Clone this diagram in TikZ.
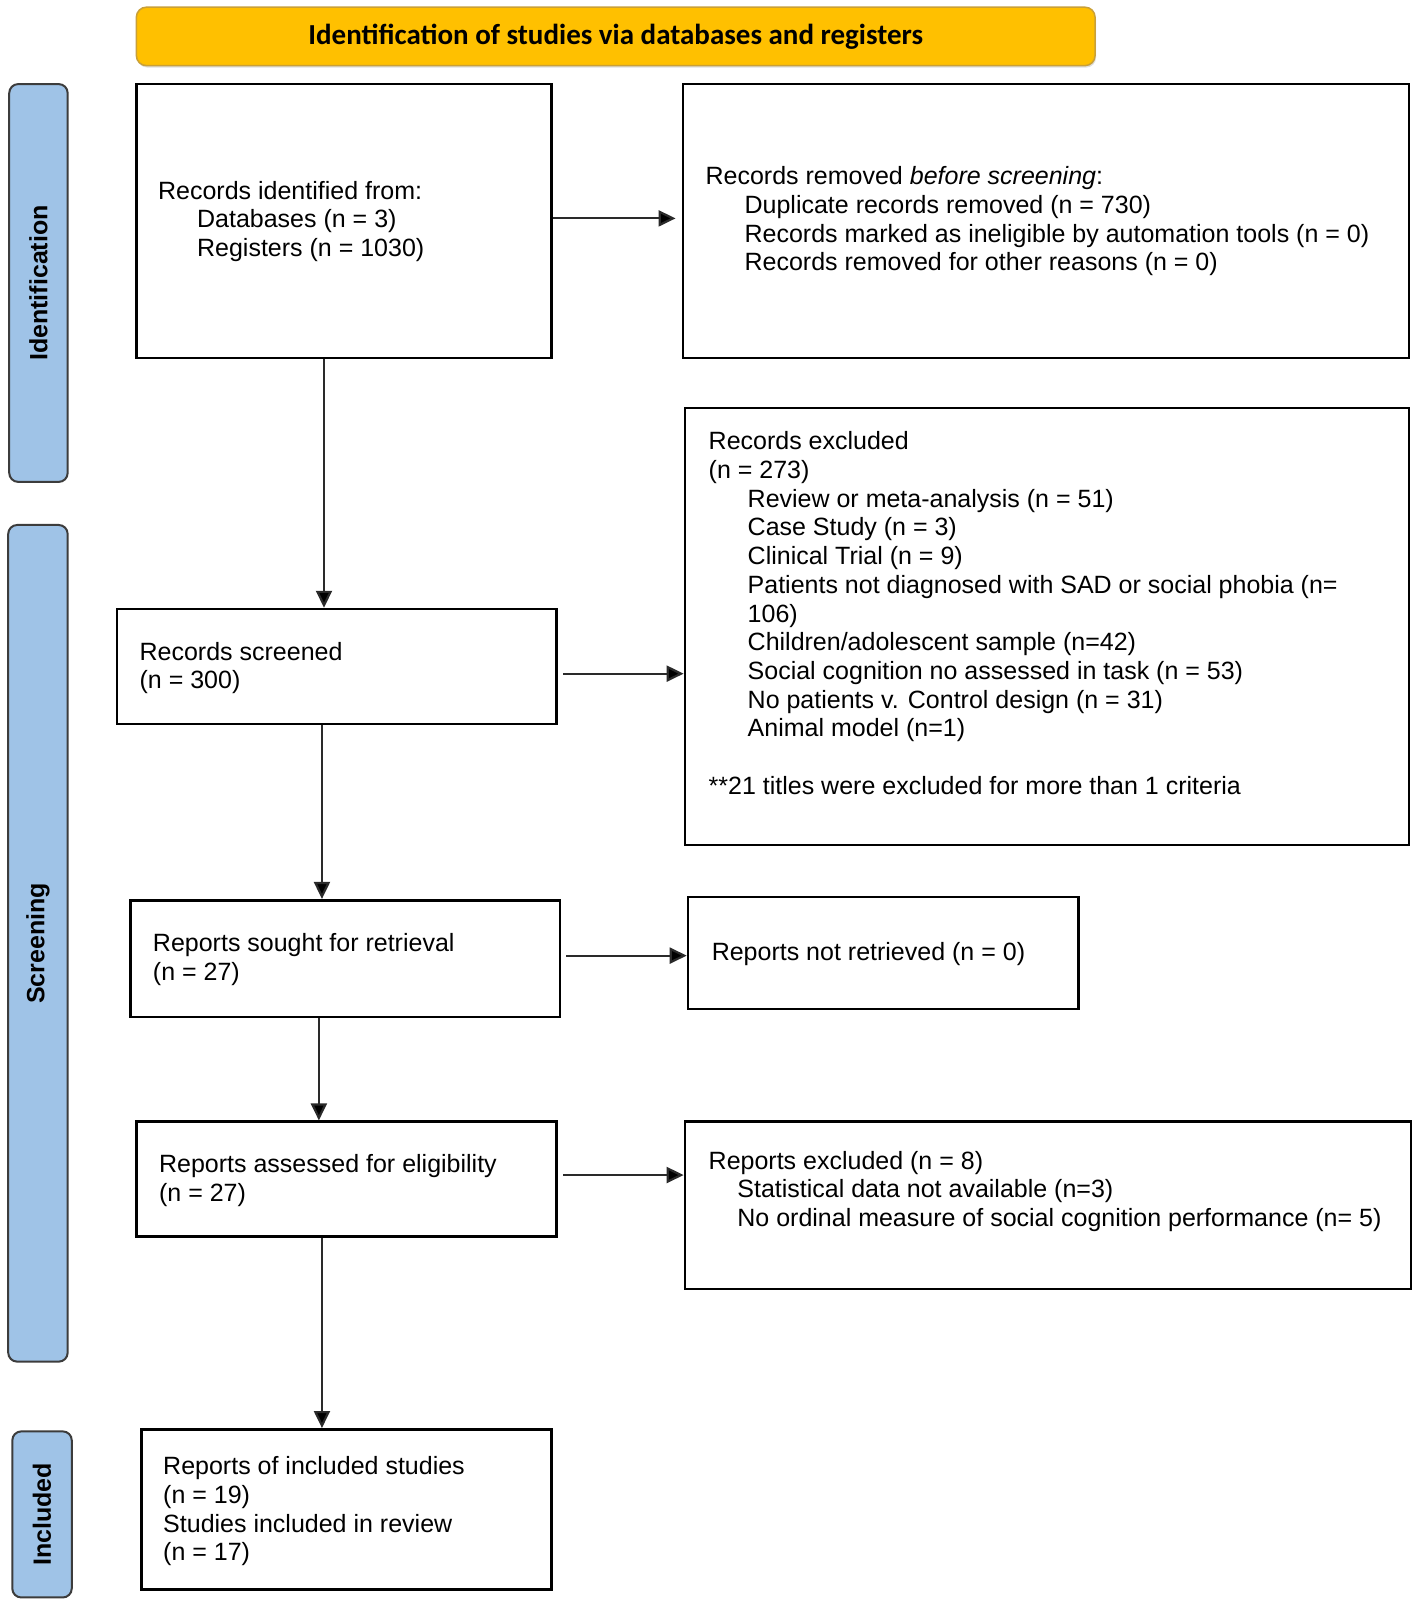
\documentclass[tikz,border=0pt]{standalone}
\usepackage{fontspec}
\setmainfont{Liberation Sans}
\newfontfamily\calibfont{Carlito}
\usetikzlibrary{arrows.meta,fit,shadows}
\definecolor{bannerfill}{HTML}{FFC000}
\definecolor{bannerdraw}{HTML}{C9A038}
\definecolor{sidefill}{HTML}{9FC3E7}
\definecolor{sidedraw}{HTML}{3C3C3C}
\definecolor{arrowcol}{HTML}{2A2A2A}
\newcommand\myind{\hspace*{39pt}}
\newcommand\myindb{\hspace*{28.7pt}}
\begin{document}
\begin{tikzpicture}[x=1.0253pt,y=-1.0253pt,
  box/.style={draw=black,line width=2.6pt,inner sep=0pt},
  txt/.style={anchor=west,align=left,inner sep=0pt,font=\fontsize{25}{28.7}\selectfont},
  side/.style={draw=sidedraw,fill=sidefill,line width=2pt,rounded corners=9pt,inner sep=0pt},
  sidetxt/.style={rotate=90,inner sep=0pt,font=\fontsize{25}{30}\selectfont\bfseries},
  arr/.style={draw=arrowcol,line width=2.2pt,-{Triangle[length=17pt,width=16pt,fill=black]}}]
\useasboundingbox (0,0) rectangle (1383,1567.3);

% banner
\node[draw=bannerdraw,fill=bannerfill,line width=1.5pt,rounded corners=10pt,inner sep=0pt,
      drop shadow={shadow xshift=1pt,shadow yshift=-2pt,opacity=0.25},
      fit={(133,7) (1068,64)}] (banner) {};
\node[inner sep=0pt,font=\calibfont\bfseries\fontsize{29}{32}\selectfont] (bannertxt) at (600.5,36) {Identification of studies via databases and registers};

% side labels
\node[side,fit={(9,82) (66,470)}] (sideid) {};
\node[sidetxt] (sideidt) at (sideid.center) {Identification};
\node[side,fit={(8,512) (66,1328)}] (sidesc) {};
\node[sidetxt] (sidesct) at (sidesc.center) {Screening};
\node[side,fit={(12,1396) (70,1558)}] (sidein) {};
\node[sidetxt] (sideint) at (sidein.center) {Included};

% boxes
\node[box,fit={(133,82) (538,349)}] (b1) {};
\node[txt] (b1t) at (154,216) {Records identified from:\\ \myind Databases (n = 3)\\ \myind Registers (n = 1030)};

\node[box,fit={(666,82) (1374,349)}] (b2) {};
\node[txt] (b2t) at (688,216) {Records removed \textit{before screening}:\\ \myind Duplicate records removed (n = 730)\\ \myind Records marked as ineligible by automation tools (n = 0)\\ \myind Records removed for other reasons (n = 0)};

\node[box,fit={(114,594) (543,706)}] (b3) {};
\node[txt] (b3t) at (136,651.5) {Records screened\\(n = 300)};

\node[box,fit={(668,398) (1374,824)}] (b4) {};
\node[txt] (b4t) at (691,598) {Records excluded\\(n = 273)\\
\myind Review or meta-analysis (n = 51)\\
\myind Case Study (n = 3)\\
\myind Clinical Trial (n = 9)\\
\myind Patients not diagnosed with SAD or social phobia (n=\\
\myind 106)\\
\myind Children/adolescent sample (n=42)\\
\myind Social cognition no assessed in task (n = 53)\\
\myind No patients v. Control design (n = 31)\\
\myind Animal model (n=1)\\[28.7pt]
**21 titles were excluded for more than 1 criteria};

\node[box,fit={(127,878) (546,992)}] (b5) {};
\node[txt] (b5t) at (149,935.5) {Reports sought for retrieval\\(n = 27)};

\node[box,fit={(671,875) (1052,984)}] (b6) {};
\node[txt] (b6t) at (694,930) {Reports not retrieved (n = 0)};

\node[box,fit={(133,1094) (543,1206)}] (b7) {};
\node[txt] (b7t) at (155,1151.5) {Reports assessed for eligibility\\(n = 27)};

\node[box,fit={(668,1094) (1376,1257)}] (b8) {};
\node[txt] (b8t) at (691,1162) {Reports excluded (n = 8)\\ \myindb Statistical data not available (n=3)\\ \myindb No ordinal measure of social cognition performance (n= 5)};

\node[box,fit={(138,1394) (538,1550)}] (b9) {};
\node[txt] (b9t) at (159,1474) {Reports of included studies\\(n = 19)\\Studies included in review\\(n = 17)};

% connector guides
\coordinate (v1) at (316,0);
\coordinate (v2) at (314,0);
\coordinate (v3) at (311,0);
\coordinate (v4) at (314,0);
\coordinate (h1) at (0,213);
\coordinate (h2) at (0,657);
\coordinate (h3) at (0,932);
\coordinate (h4) at (0,1146);

% vertical arrows
\draw[arr] (b1.south -| v1) -- (b3.north -| v1);
\draw[arr] (b3.south -| v2) -- (b5.north -| v2);
\draw[arr] (b5.south -| v3) -- (b7.north -| v3);
\draw[arr] (b7.south -| v4) -- (b9.north -| v4);

% horizontal arrows
\draw[arr] (b1.east |- h1) -- ([xshift=-6pt]b2.west |- h1);
\draw[arr] ([xshift=5pt]b3.east |- h2) -- (b4.west |- h2);
\draw[arr] ([xshift=5pt]b5.east |- h3) -- (b6.west |- h3);
\draw[arr] ([xshift=5pt]b7.east |- h4) -- (b8.west |- h4);
\end{tikzpicture}
\end{document}
